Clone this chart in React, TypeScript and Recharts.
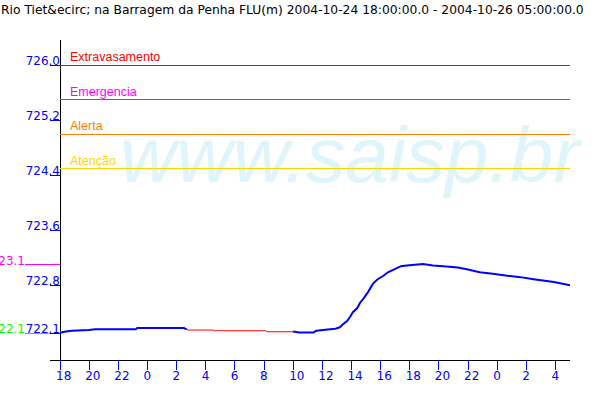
import React from "react"
import { LineChart, Line, XAxis, YAxis, ReferenceLine } from "recharts"

const TITLE = "Rio Tiet&ecirc; na Barragem da Penha FLU(m) 2004-10-24 18:00:00.0 - 2004-10-26 05:00:00.0"
const WATERMARK = "www.saisp.br"

// hours since 2004-10-24 18:00
const hours = [
  0, 0.4, 0.8, 2.0, 2.4, 5.2, 5.3, 8.5, 8.7, 8.8, 10.5, 10.6, 14.1, 14.2, 16.0, 16.4, 17.4, 17.6,
  18.2, 18.9, 19.2, 19.4, 19.7, 19.9, 20.1, 20.4, 20.6, 20.8, 21.1, 21.3, 21.5, 21.8, 22.2, 22.5,
  22.9, 23.4, 23.8, 24.9, 25.6, 26.3, 27.3, 28.0, 28.8, 29.7, 30.7, 31.6, 32.5, 33.9, 35.0,
]
const observed = [
  722.11, 722.13, 722.14, 722.15, 722.16, 722.16, 722.18, 722.18, 722.16, null, null, null, null, null, 722.13, 722.115, 722.115, 722.14,
  722.155, 722.17, 722.19, 722.23, 722.28, 722.34, 722.41, 722.47, 722.55, 722.6, 722.69, 722.76, 722.83, 722.89, 722.94, 722.99,
  723.03, 723.08, 723.09, 723.11, 723.09, 723.08, 723.06, 723.03, 722.99, 722.97, 722.94, 722.92, 722.89, 722.85, 722.8,
]
const estimated = [
  null, null, null, null, null, null, null, null, 722.16, 722.15, 722.15, 722.14, 722.14, 722.125, 722.125, null, null, null,
  null, null, null, null, null, null, null, null, null, null, null, null, null, null, null, null,
  null, null, null, null, null, null, null, null, null, null, null, null, null, null, null,
]

const thresholdNames = ["Extravasamento", "Emergencia", "Alerta", "Atenção"]
const thresholdValues = [726.0, 725.5, 725.0, 724.5]
const thresholdColors = ["#ff0000", "#ff00ff", "#ff8000", "#ffd700"]

const yTicks = [722.1, 722.8, 723.1, 723.6, 724.4, 725.2, 726.0]
const maxLevel = 723.1
const minLevel = 722.1
const xTicks = [0, 2, 4, 6, 8, 10, 12, 14, 16, 18, 20, 22, 24, 26, 28, 30, 32, 34]
const startHour = 18

const data = hours.map((h, i) => ({ hour: h, observed: observed[i], estimated: estimated[i] }))

const FONT = "'DejaVu Sans', sans-serif"
const LABEL_FONT = "'Liberation Sans', sans-serif"

function YTick(props: any) {
  const { x, y, payload } = props
  const v = payload.value
  if (v === maxLevel) {
    return (
      <g>
        <line x1={x - 25} x2={x + 10} y1={y} y2={y} stroke="#ff00ff" shapeRendering="crispEdges" />
        <text x={x - 25} y={y} textAnchor="end" fill="#ff00ff" fontSize={12} fontFamily={FONT}>
          {v.toFixed(1)}
        </text>
      </g>
    )
  }
  return (
    <g>
      {v === minLevel && (
        <>
          <line x1={x - 25} x2={x} y1={y} y2={y} stroke="#00ff00" shapeRendering="crispEdges" />
          <text x={x - 25} y={y} textAnchor="end" fill="#00ff00" fontSize={12} fontFamily={FONT}>
            {v.toFixed(1)}
          </text>
        </>
      )}
      <line x1={x} x2={x + 10} y1={y} y2={y} stroke="#0000ff" shapeRendering="crispEdges" />
      <text x={x + 10} y={y} textAnchor="end" fill="#0000ff" fontSize={12} fontFamily={FONT}>
        {v.toFixed(1)}
      </text>
    </g>
  )
}

function XTick(props: any) {
  const { x, y, payload } = props
  return (
    <g>
      <line x1={x} x2={x} y1={y} y2={y + 10} stroke="#0000ff" shapeRendering="crispEdges" />
      <text x={x - 4} y={y + 20} fill="#0000ff" fontSize={12} fontFamily={FONT}>
        {(startHour + payload.value) % 24}
      </text>
    </g>
  )
}

export default function App() {
  return (
    <div style={{ position: "absolute", left: 0, top: 0, width: 600, height: 400, background: "#fff" }}>
      <div
        style={{
          position: "absolute",
          left: 120,
          top: 116,
          fontFamily: "'Liberation Sans', sans-serif",
          fontStyle: "italic",
          fontSize: 78,
          lineHeight: "78px",
          color: "#e0f4fc",
          whiteSpace: "nowrap",
        }}
      >
        {WATERMARK}
      </div>
      <div
        style={{
          position: "absolute",
          left: 1,
          top: 3,
          fontFamily: FONT,
          fontSize: 12.3,
          lineHeight: "14px",
          whiteSpace: "nowrap",
        }}
      >
        {TITLE}
      </div>
      <div style={{ position: "absolute", left: 0, top: 0 }}>
        <LineChart width={600} height={400} data={data} margin={{ top: 40, right: 30, left: 0, bottom: 0 }}>
          <XAxis
            dataKey="hour"
            type="number"
            domain={[-0.687, 35]}
            allowDataOverflow
            ticks={xTicks}
            interval={0}
            height={40}
            axisLine={{ stroke: "#000", shapeRendering: "crispEdges" }}
            tickLine={false}
            tickSize={0}
            tickMargin={0}
            tick={<XTick />}
          />
          <YAxis
            type="number"
            domain={[721.714, 726.371]}
            allowDataOverflow
            ticks={yTicks}
            interval={0}
            width={50}
            axisLine={false}
            tickLine={false}
            tickSize={0}
            tickMargin={0}
            tick={<YTick />}
          />
          <ReferenceLine x={0} stroke="#000" shapeRendering="crispEdges" />
          {thresholdValues.map((v, i) => (
            <ReferenceLine
              key={thresholdNames[i]}
              segment={[
                { x: 0, y: v },
                { x: 35, y: v },
              ]}
              stroke={thresholdColors[i]}
              shapeRendering="crispEdges"
              label={(p: any) => (
                <text
                  x={p.viewBox.x + 10}
                  y={p.viewBox.y - 4}
                  fill={thresholdColors[i]}
                  fontSize={12.5}
                  fontFamily={LABEL_FONT}
                >
                  {thresholdNames[i]}
                </text>
              )}
            />
          ))}
          <Line
            dataKey="estimated"
            stroke="#ff0000"
            strokeWidth={1}
            dot={false}
            isAnimationActive={false}
            connectNulls={false}
          />
          <Line
            dataKey="observed"
            stroke="#0000ff"
            strokeWidth={2}
            dot={false}
            isAnimationActive={false}
            connectNulls={false}
          />
        </LineChart>
      </div>
    </div>
  )
}
